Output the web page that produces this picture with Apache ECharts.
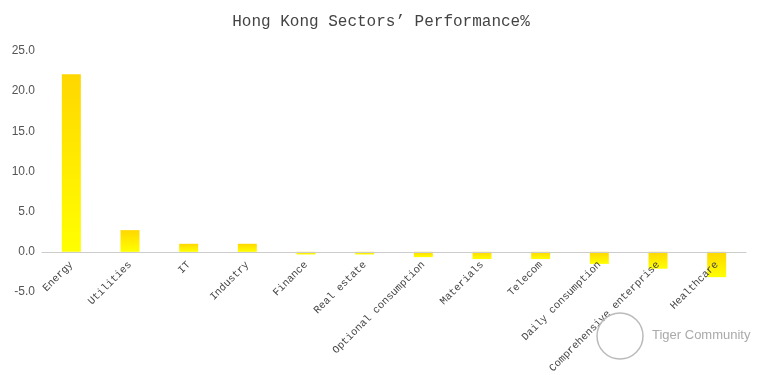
<!DOCTYPE html>
<html>
<head>
<meta charset="utf-8">
<script src="https://cdn.jsdelivr.net/npm/echarts@6/dist/echarts.min.js"></script>
<style>html,body{margin:0;padding:0;background:#fff}#c{width:762px;height:375px}</style>
</head>
<body>
<div id="c"></div>
<script>
var categories = ['Energy','Utilities','IT','Industry','Finance','Real estate','Optional consumption','Materials','Telecom','Daily consumption','Comprehensive enterprise','Healthcare'];
var values = [22.1, 2.7, 1.0, 1.0, -0.33, -0.33, -0.66, -0.9, -0.9, -1.5, -2.1, -3.15];
var yTicks = {min: -5, max: 25, interval: 5};

var chart = echarts.init(document.getElementById('c'));
chart.setOption({
  animation: false,
  title: {
    text: 'Hong Kong Sectors\u2019 Performance%',
    left: 'center', top: 9,
    textStyle: {fontFamily: 'Liberation Mono', fontSize: 16, fontWeight: 'normal', color: '#444'}
  },
  grid: {left: 42, right: 16, top: 51, bottom: 83, containLabel: false, outerBoundsMode: 'none'},
  xAxis: {
    type: 'category', data: categories, offset: -40, z: 10,
    axisLine: {onZero: false, lineStyle: {color: '#ccc'}},
    axisTick: {show: false},
    axisLabel: {rotate: 45, interval: 0, fontFamily: 'Liberation Mono', fontSize: 10.5, color: '#444', margin: 11}
  },
  yAxis: {
    type: 'value', min: yTicks.min, max: yTicks.max, interval: yTicks.interval,
    axisLine: {show: false}, axisTick: {show: false}, splitLine: {show: false},
    axisLabel: {formatter: function(v){return v.toFixed(1);}, fontFamily: 'Liberation Sans', fontSize: 12, color: '#555', margin: 7}
  },
  series: [{
    type: 'bar', data: values, barWidth: 19,
    itemStyle: {color: new echarts.graphic.LinearGradient(0,0,0,1,[{offset:0,color:'#FFD700'},{offset:1,color:'#FFFF00'}])}
  }],
  graphic: [
    {type: 'circle', shape: {cx: 620, cy: 336, r: 23}, style: {fill: 'none', stroke: '#bbb', lineWidth: 1.5}, z: 100},
    {type: 'text', left: 652, top: 329, style: {text: 'Tiger Community', font: '13px Liberation Sans', fill: '#aaa'}, z: 100}
  ]
});
</script>
</body>
</html>
